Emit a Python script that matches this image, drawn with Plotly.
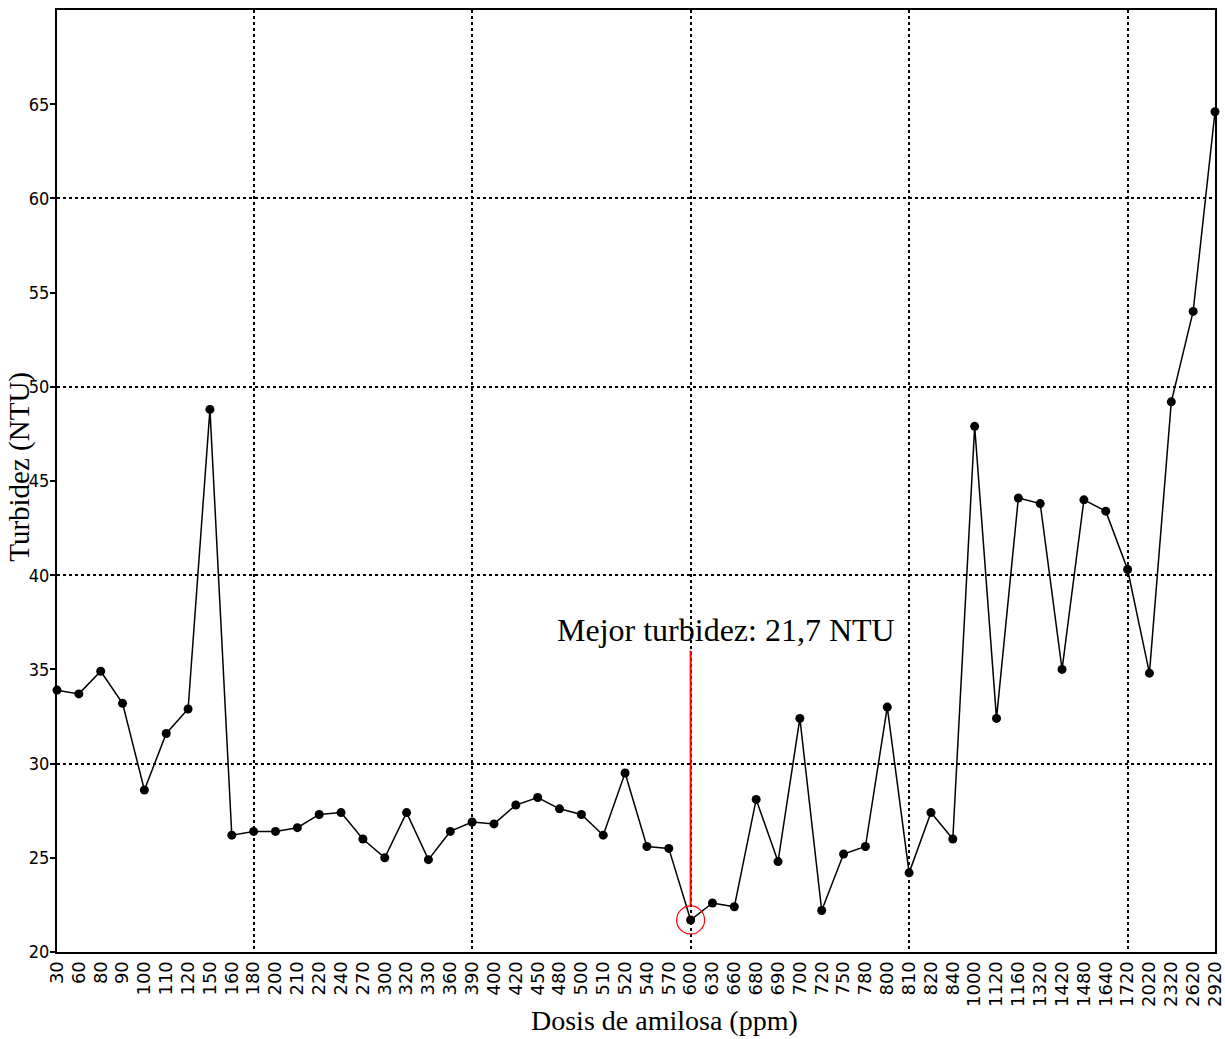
import plotly.graph_objects as go

dosis = ["30", "60", "80", "90", "100", "110", "120", "150", "160", "180",
         "200", "210", "220", "240", "270", "300", "320", "330", "360", "390",
         "400", "420", "450", "480", "500", "510", "520", "540", "570", "600",
         "630", "660", "680", "690", "700", "720", "750", "780", "800", "810",
         "820", "840", "1000", "1120", "1160", "1320", "1420", "1480", "1640", "1720",
         "2020", "2320", "2620", "2920"]
turbidez = [33.9, 33.7, 34.9, 33.2, 28.6, 31.6, 32.9, 48.8, 26.2, 26.4,
            26.4, 26.6, 27.3, 27.4, 26.0, 25.0, 27.4, 24.9, 26.4, 26.9,
            26.8, 27.8, 28.2, 27.6, 27.3, 26.2, 29.5, 25.6, 25.5, 21.7,
            22.6, 22.4, 28.1, 24.8, 32.4, 22.2, 25.2, 25.6, 33.0, 24.2,
            27.4, 26.0, 47.9, 32.4, 44.1, 43.8, 35.0, 44.0, 43.4, 40.3,
            34.8, 49.2, 54.0, 64.6]
y_ticks = [20, 25, 30, 35, 40, 45, 50, 55, 60, 65]
y_grid = [30, 40, 50, 60]
x_grid_labels = ["180", "390", "600", "810", "1720"]

idx = list(range(len(dosis)))
x_grid = [dosis.index(v) for v in x_grid_labels]
best_i = min(idx, key=lambda i: turbidez[i])
best_v = turbidez[best_i]

fig = go.Figure()
# invisible trace to activate overlay grid axes
fig.add_trace(go.Scatter(x=[0], y=[20], xaxis="x2", yaxis="y2", mode="markers",
                         marker=dict(opacity=0), showlegend=False, hoverinfo="skip"))
fig.add_trace(go.Scatter(
    x=idx, y=turbidez, mode="lines+markers",
    line=dict(color="black", width=1.5),
    marker=dict(color="black", size=9, symbol="circle"),
    cliponaxis=False, showlegend=False,
))

serif = "Liberation Serif, Times New Roman, serif"
axis_common = dict(showline=True, linecolor="black", linewidth=2, mirror=True,
                   zeroline=False, automargin=False)

fig.update_layout(
    width=1225, height=1039,
    margin=dict(l=57, r=10, t=10, b=87),
    plot_bgcolor="white", paper_bgcolor="white",
    xaxis=dict(
        range=[0, len(dosis) - 1], tickmode="array", tickvals=idx, ticktext=dosis,
        tickangle=-90, showgrid=False, ticks="", ticklabeloverflow="allow",
        tickfont=dict(family="DejaVu Sans", size=18, color="black"),
        **axis_common,
    ),
    yaxis=dict(
        range=[20, 70], tickmode="array", tickvals=y_ticks, showgrid=False,
        ticks="outside", ticklen=5, tickwidth=1.5, tickcolor="black",
        ticklabelstandoff=-3,
        tickfont=dict(family="DejaVu Sans Condensed, DejaVu Serif Condensed, Liberation Serif",
                      size=18, color="black"),
        **axis_common,
    ),
    xaxis2=dict(
        overlaying="x", range=[0, len(dosis) - 1], tickmode="array", tickvals=x_grid,
        showgrid=True, gridcolor="black", griddash="dot", gridwidth=1.5,
        showticklabels=False, ticks="", showline=False, zeroline=False, automargin=False,
    ),
    yaxis2=dict(
        overlaying="y", range=[20, 70], tickmode="array", tickvals=y_grid,
        showgrid=True, gridcolor="black", griddash="dot", gridwidth=1.5,
        showticklabels=False, ticks="", showline=False, zeroline=False, automargin=False,
    ),
    shapes=[
        dict(type="line", xref="x", yref="y", x0=best_i, x1=best_i, y0=best_v + 0.8, y1=36,
             line=dict(color="red", width=2)),
        dict(type="circle", xref="x", yref="y", xsizemode="pixel", ysizemode="pixel",
             xanchor=best_i, yanchor=best_v, x0=-14, x1=14, y0=-14, y1=14,
             line=dict(color="red", width=1.2)),
    ],
    annotations=[
        dict(text="Mejor turbidez: 21,7 NTU", x=best_i + 1.6, y=37.1, xref="x", yref="y",
             showarrow=False, xanchor="center", yanchor="middle",
             font=dict(family=serif, size=32, color="black")),
        dict(text="Dosis de amilosa (ppm)", x=0.5245, y=-0.0725, xref="paper", yref="paper",
             showarrow=False, xanchor="center", yanchor="middle",
             font=dict(family=serif, size=28, color="black")),
        dict(text="Turbidez (NTU)", x=-0.032, y=0.515, xref="paper", yref="paper",
             showarrow=False, xanchor="center", yanchor="middle", textangle=-90,
             font=dict(family=serif, size=29, color="black")),
    ],
)

fig.write_html("out.html")
